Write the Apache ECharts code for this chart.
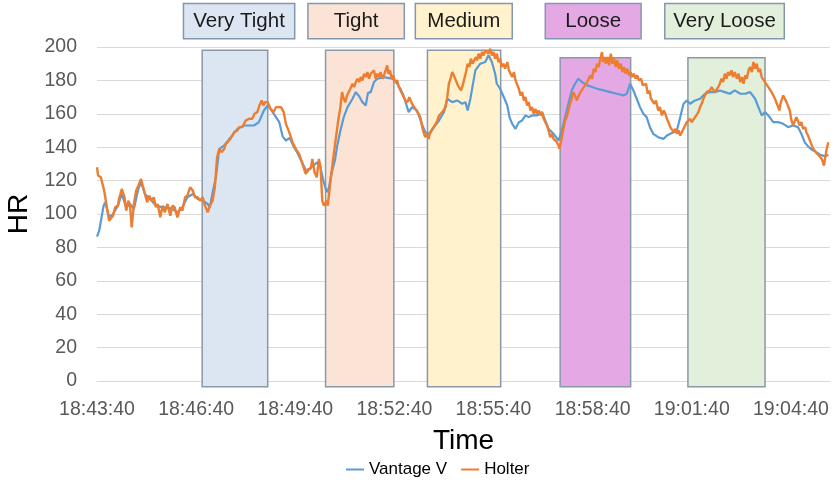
<!DOCTYPE html>
<html><head><meta charset="utf-8">
<script src="https://cdn.jsdelivr.net/npm/echarts@6/dist/echarts.min.js"></script>
<style>html,body{margin:0;padding:0;background:#fff}#c{width:833px;height:482px}</style>
</head><body><div id="c"></div>
<script>
// time axis: seconds after 18:43:40
const startClock = 18*3600 + 43*60 + 40;
const xMax = 1331;
const tickStep = 180;

const bandNames = ['Very Tight', 'Tight', 'Medium', 'Loose', 'Very Loose'];
const bandStart = [191, 415, 600, 841, 1073];
const bandEnd = [310, 539, 733, 969, 1213];
const bandTop = [198, 198, 198, 193.5, 193.5];
const bandBottom = -3.5;
const labelStart = [157, 383, 578, 814, 1031];
const labelEnd = [359, 558, 754, 988, 1248];
const labelTop = 226;
const labelBottom = 205;
const bandColors = ['#dce6f2', '#fbe4d5', '#fff2cc', '#e4a9e4', '#e2efda'];

const vantage = [[0,86.5],[4,90],[12,105],[15,107],[22,98],[29,100],[38,105],[45,112],[53,104],[60,106],[67,103],[75,115],[80,119],[87,112],[99,108],[107,105],[119,104],[128,104],[137,103],[146,101],[155,104],[164,110],[174,112],[183,109],[192,108],[201,106],[205,104],[210,113],[216,122],[222,139],[231,141],[243,146],[255,151],[267,153],[285,153],[294,155],[303,162],[310,165],[315,163],[321,160],[331,155],[337,146.5],[343,144],[350,145.5],[357,140.5],[364,136.5],[373,130.5],[381,125],[387,127.5],[393,129],[400,131],[405,129],[411,120],[417,113],[421,115.5],[426,124.5],[432,132],[436,140.5],[442,150],[448,158],[455,164],[464,169],[470,173],[476,170.5],[482,167],[488,165],[492,172.5],[497,173],[503,179],[509,181],[521,182],[536,181],[540,180],[545,178],[551,175],[557,170.5],[566,161],[572,164],[581,162],[591,153],[596,149],[604,148],[612,152],[621,156],[630,161],[636,169],[645,167],[654,168],[663,166],[669,167],[673,162],[678,169],[687,186],[696,190],[705,191],[711,195],[717,191],[723,184],[726,178],[732,175],[738,170.5],[745,165],[749,158],[754,154],[760,151],[766,155],[772,156],[778,159],[784,158],[790,159],[799,159],[808,161],[814,156],[820,151],[829,148],[838,144],[844,150],[850,158],[856,166],[862,174],[868,178],[874,181],[881,179],[890,177],[899,176],[908,175],[920,174],[932,173],[944,172],[956,171],[962,172],[968,178],[974,174],[980,169],[986,164],[992,160],[998,158],[1004,152],[1010,148],[1019,146],[1029,145],[1035,147],[1041,148],[1047,149],[1053,150],[1059,158],[1065,166],[1071,168],[1077,166],[1086,168],[1095,169],[1104,172],[1113,173],[1122,173],[1131,174],[1140,173],[1149,172],[1158,174],[1168,172],[1177,172],[1186,173],[1195,169],[1201,164],[1207,159],[1213,161],[1219,159],[1228,155],[1237,155],[1246,154],[1255,152],[1264,153],[1273,152],[1279,148],[1285,143],[1291,140.5],[1298,138.5],[1304,137.5],[1313,135.5],[1322,134.5],[1328,135.5]];

const holter = [[0,128],[2,123],[7,122],[13,114],[22,96],[29,99],[33,104],[38,105],[40,109],[45,115],[50,110],[53,102],[57,108],[60,105],[63,92],[67,106],[71,114],[75,117],[80,121],[83,117],[87,112],[91,107],[95,111],[99,108],[103,110],[107,104],[110,106],[115,98],[119,105],[123,101],[128,106],[133,99],[137,105],[141,104],[146,98],[151,104],[155,102],[160,110],[164,111],[169,116],[174,114],[178,110],[183,110],[187,108],[192,110],[196,105],[201,101],[205,105],[210,108],[214,116],[218,134],[222,139],[226,137],[231,139],[234,142],[237,141],[240,144],[243,145],[246,147],[249,149],[252,148],[255,150],[258,152],[261,153],[264,152],[267,154],[270,156],[273,155],[276,157],[279,156],[282,157],[286,160],[291,161],[295,165],[299,168],[302,165],[305,167],[310,167],[315,163],[321,161],[325,164],[328,163],[334,164],[339,161],[343,154],[349,149],[355,143],[361,139],[364,140],[367,136],[373,130],[379,124],[384,127],[388,127],[391,133],[395,125],[399,122],[403,133],[406,128],[409,108],[412,105],[417,108],[419,105],[424,120],[430,136],[438,156],[442,164],[445,173],[448,169],[451,167],[454,171],[457,170],[460,175],[464,178],[467,176],[470,179],[473,181],[476,179],[479,182],[482,180],[485,184],[488,182],[491,185],[494,181],[497,184],[500,183],[503,186],[506,181],[509,184],[512,182],[515,185],[518,181],[522,184],[525,183],[527,189],[529,184],[532,186],[535,181],[538,183],[541,179],[545,180],[548,176],[551,177],[554,172],[557,171],[560,168],[564,167],[567,170],[569,169],[572,166],[575,167],[578,163],[581,162],[584,160],[587,158],[590,153],[592,150],[596,146],[599,148],[602,145],[605,149],[609,151],[612,150],[615,154],[618,156],[621,159],[624,158],[627,161],[630,160],[633,164],[636,170],[639,178],[642,181],[645,185],[648,183],[651,182],[654,178],[657,176],[661,174],[664,177],[667,181],[670,185],[673,190],[676,188],[679,193],[682,190],[685,191],[688,194],[690,192],[693,196],[696,193],[699,197],[702,195],[705,198],[708,199],[711,196],[714,199],[717,195],[720,197],[723,193],[726,196],[729,191],[732,193],[735,188],[738,190],[741,187],[745,191],[748,186],[751,187],[754,182],[757,185],[760,180],[763,179],[766,175],[769,171],[772,173],[775,168],[778,170],[781,165],[784,167],[787,162],[790,164],[793,160],[796,163],[799,160],[802,162],[805,159],[808,161],[811,157],[814,158],[817,153],[820,150],[823,146],[826,148],[829,145],[832,146],[835,143],[838,141],[840,139],[844,146],[847,151],[850,156],[853,158],[856,162],[859,166],[862,169],[865,173],[868,171],[871,168],[874,169],[878,173],[881,172],[884,176],[887,175],[890,179],[893,180],[896,183],[899,181],[902,187],[905,185],[908,190],[911,188],[914,193],[917,197],[919,191],[921,194],[924,190],[927,194],[930,189],[933,196],[936,190],[939,193],[942,188],[945,192],[948,187],[951,190],[954,185],[957,188],[960,184],[963,187],[966,183],[969,185],[972,182],[975,184],[978,181],[981,183],[984,180],[988,181],[991,177],[994,176],[997,178],[1000,172],[1003,174],[1006,169],[1009,170],[1012,166],[1015,168],[1019,162],[1022,164],[1026,159],[1029,162],[1032,160],[1035,157],[1038,158],[1041,152],[1044,153],[1047,149],[1050,151],[1053,148],[1056,150],[1059,147],[1062,149],[1065,151],[1068,152],[1071,155],[1074,156],[1077,157],[1080,155],[1083,156],[1086,158],[1089,159],[1092,161],[1095,164],[1098,166],[1101,169],[1104,171],[1107,173],[1110,172],[1113,174],[1116,176],[1119,175],[1122,173],[1125,174],[1128,176],[1131,178],[1134,181],[1137,179],[1140,184],[1143,181],[1146,185],[1149,183],[1152,186],[1155,182],[1158,185],[1162,181],[1165,184],[1168,179],[1171,182],[1174,178],[1177,183],[1180,181],[1183,186],[1186,188],[1189,185],[1192,191],[1195,187],[1198,190],[1201,185],[1204,187],[1207,182],[1210,183],[1213,179],[1216,180],[1219,176],[1222,177],[1225,173],[1228,172],[1231,169],[1234,168],[1237,164],[1239,162],[1241,166],[1243,167],[1246,171],[1249,170],[1252,167],[1255,168],[1258,162],[1261,156],[1264,153],[1267,154],[1270,158],[1273,157],[1276,153],[1279,155],[1282,151],[1284,150],[1286,152],[1288,149],[1291,147],[1294,146],[1297,142],[1299,140],[1302,139],[1305,137],[1308,138],[1311,135],[1314,136],[1316,133],[1318,131],[1320,129],[1323,135],[1325,139],[1328,143]];

const FONT = "'Liberation Sans', Arial, sans-serif";

function fmtTime(s) {
  const t = startClock + s;
  const h = Math.floor(t / 3600), m = Math.floor((t % 3600) / 60), sec = t % 60;
  return h + ':' + String(m).padStart(2, '0') + ':' + String(sec).padStart(2, '0');
}

const chart = echarts.init(document.getElementById('c'), null, {renderer: 'canvas'});
chart.setOption({
  animation: false,
  backgroundColor: '#fff',
  grid: {left: 97, right: 3, top: 47, bottom: 101, containLabel: false, outerBoundsMode: 'none'},
  legend: {
    data: ['Vantage V', 'Holter'],
    top: 456, left: 341,
    icon: 'rect', itemWidth: 18, itemHeight: 2, itemGap: 14,
    textStyle: {fontFamily: FONT, fontSize: 17, color: '#000'}
  },
  xAxis: {
    type: 'value', min: 0, max: xMax, interval: tickStep,
    name: 'Time', nameLocation: 'middle', nameGap: 46,
    nameTextStyle: {fontFamily: FONT, fontSize: 28, color: '#000'},
    axisLine: {show: true, lineStyle: {color: '#d9d9d9', width: 1}},
    axisTick: {show: false},
    splitLine: {show: false},
    axisLabel: {formatter: fmtTime, showMaxLabel: false, margin: 19,
      fontFamily: FONT, fontSize: 19.5, color: '#595959'}
  },
  yAxis: {
    type: 'value', min: 0, max: 200, interval: 20,
    name: 'HR', nameLocation: 'middle', nameGap: 63, nameRotate: 90,
    nameTextStyle: {fontFamily: FONT, fontSize: 28, color: '#000'},
    axisLine: {show: false}, axisTick: {show: false},
    splitLine: {lineStyle: {color: '#d9d9d9', width: 1}},
    axisLabel: {margin: 20, fontFamily: FONT, fontSize: 19.5, color: '#595959'}
  },
  series: [
    {
      type: 'custom', silent: true, clip: false, z: 1,
      data: bandNames.map((n, i) => [bandStart[i], bandEnd[i]]),
      encode: {x: [0, 1]},
      renderItem: function (params, api) {
        const i = params.dataIndex;
        const a = api.coord([bandStart[i], bandTop[i]]);
        const b = api.coord([bandEnd[i], bandBottom]);
        const la = api.coord([labelStart[i], labelTop]);
        const lb = api.coord([labelEnd[i], labelBottom]);
        return {type: 'group', children: [
          {type: 'rect', shape: {x: a[0], y: a[1], width: b[0] - a[0], height: b[1] - a[1]},
           style: {fill: bandColors[i], stroke: '#8a98a8', lineWidth: 1.5}},
          {type: 'rect', shape: {x: la[0], y: la[1], width: lb[0] - la[0], height: lb[1] - la[1]},
           style: {fill: bandColors[i], stroke: '#8497b0', lineWidth: 1.5}},
          {type: 'text', style: {text: bandNames[i], x: (la[0] + lb[0]) / 2, y: (la[1] + lb[1]) / 2,
           align: 'center', verticalAlign: 'middle', fontFamily: FONT, fontSize: 20.5, fill: '#1a1a1a'}}
        ]};
      }
    },
    {
      name: 'Vantage V', type: 'line', data: vantage, showSymbol: false, z: 3,
      lineStyle: {color: '#5b9bd5', width: 2.2}, itemStyle: {color: '#5b9bd5'}
    },
    {
      name: 'Holter', type: 'line', data: holter, showSymbol: false, z: 4,
      lineStyle: {color: '#ed7d31', width: 2.4}, itemStyle: {color: '#ed7d31'}
    }
  ]
});
</script></body></html>
